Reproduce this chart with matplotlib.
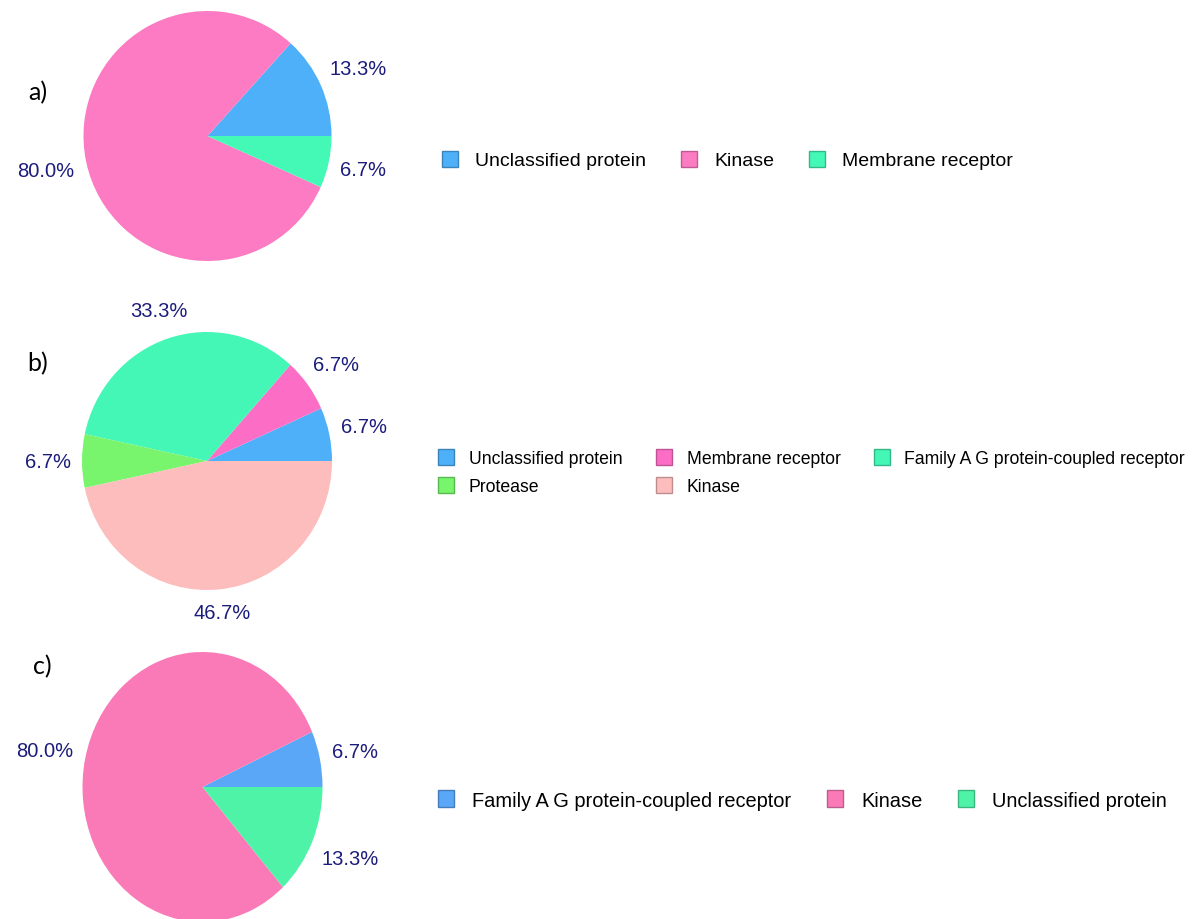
import numpy as np
import matplotlib.pyplot as plt
import matplotlib.patches as mpatches
from matplotlib.colors import to_rgb

# panel a
a_labels = ["Unclassified protein", "Kinase", "Membrane receptor"]
a_values = [13.3, 80.0, 6.7]
a_colors = ["#4DB0F8", "#FC7BC2", "#44F8B6"]

# panel b
b_labels = ["Unclassified protein", "Membrane receptor", "Family A G protein-coupled receptor", "Protease", "Kinase"]
b_values = [6.7, 6.7, 33.3, 6.7, 46.7]
b_colors = ["#4DB0F8", "#FC6EC5", "#44F7B6", "#78F56C", "#FDBDBD"]

# panel c
c_labels = ["Family A G protein-coupled receptor", "Kinase", "Unclassified protein"]
c_values = [6.7, 80.0, 13.3]
c_colors = ["#5AA7F7", "#FA7AB8", "#4EF3A8"]

W, H = 1195, 920
fig = plt.figure(figsize=(W / 100, H / 100), dpi=100)
renderer = fig.canvas.get_renderer()

navy = "#1C1C7C"
font = "Liberation Sans"


def darker(c, f=0.75):
    r, g, b = to_rgb(c)
    return (r * f, g * f, b * f)


def pie_axes(cx, cy, rx, ry):
    # axes placed in pixels, pie of radius 1 fills rx/ry pixels
    return fig.add_axes([(cx - 1.25 * rx) / W, 1 - (cy + 1.25 * ry) / H, 2.5 * rx / W, 2.5 * ry / H])


def panel(ax, values, colors, labels, order, leg_xy, fs, pad, colsp, lsp):
    wedges, _ = ax.pie(values, colors=colors, startangle=0, counterclock=True)
    ax.set_aspect("auto")
    ax.set_xlim(-1.25, 1.25)
    ax.set_ylim(-1.25, 1.25)

    # percentage labels sit just outside the rim, box kept a fixed gap away
    total = sum(values)
    for w, v in zip(wedges, values):
        ang = np.deg2rad((w.theta1 + w.theta2) / 2)
        c, s = np.cos(ang), np.sin(ang)
        t = ax.annotate(f"{100 * v / total:.1f}%", xy=(c, s), xytext=(0, 0),
                        textcoords="offset pixels", ha="center", va="center",
                        color=navy, fontsize=14.5, family=font)
        bb = t.get_window_extent(renderer=renderer)
        off = 11 + 0.5 * (bb.width * abs(c) + bb.height * abs(s))
        t.xyann = (off * c, off * s)

    handles = [mpatches.Patch(facecolor=colors[i], edgecolor=darker(colors[i]), linewidth=1.0,
                              label=labels[i]) for i in order]
    fs_px = fs * 100 / 72
    fig.legend(handles=handles, loc="center left",
               bbox_to_anchor=(leg_xy[0] / W, 1 - leg_xy[1] / H),
               ncol=3, frameon=False, borderpad=0, borderaxespad=0,
               prop=dict(family=font, size=fs),
               handlelength=16 / fs_px, handleheight=18 / fs_px,
               handletextpad=pad / fs_px, columnspacing=colsp / fs_px,
               labelspacing=lsp / fs_px)


ax_a = pie_axes(207.5, 137, 124, 125)
panel(ax_a, a_values, a_colors, a_labels, [0, 1, 2], (442, 161), 14, 17, 35, 8)

ax_b = pie_axes(207, 462, 125, 129)
panel(ax_b, b_values, b_colors, b_labels, [0, 3, 1, 4, 2], (438, 473), 12.7, 15, 33, 10)

ax_c = pie_axes(202.5, 788, 120, 135)
panel(ax_c, c_values, c_colors, c_labels, [0, 1, 2], (438, 801), 14.4, 18, 36, 8)

for txt, x, y in [("a)", 38, 93), ("b)", 38, 364), ("c)", 42, 667)]:
    fig.text(x / W, 1 - y / H, txt, fontsize=18, family="Lato", ha="center", va="center", color="black")

plt.savefig("out.png", dpi=100)
